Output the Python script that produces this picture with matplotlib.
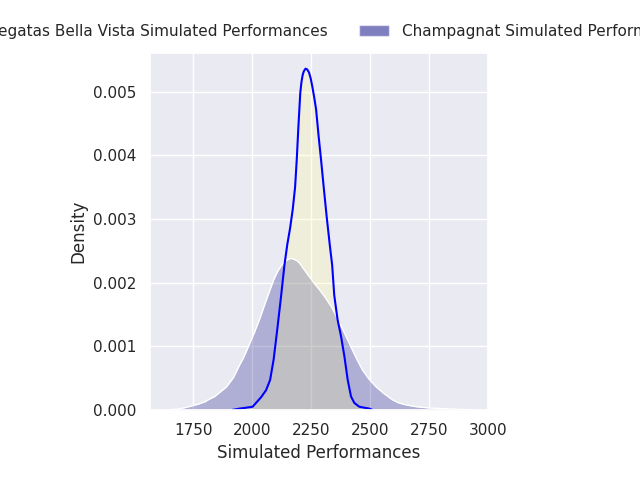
import matplotlib
matplotlib.use("Agg")
import matplotlib.pyplot as plt
import seaborn as sns
from matplotlib.patches import Patch

# density curves
regatas_x = [1915, 1945, 2001, 2037, 2058, 2075, 2090, 2105, 2122, 2136, 2148,
             2160, 2171, 2181, 2188, 2195, 2203, 2208, 2213, 2218, 2225, 2232,
             2240, 2247, 2254, 2262, 2270, 2281, 2291, 2302, 2315, 2329, 2338,
             2347, 2361, 2376, 2390, 2404, 2418, 2432, 2453, 2496, 2508]
regatas_y = [0.0, 0.00002, 0.00005, 0.00020, 0.00031, 0.00047, 0.00079,
             0.00125, 0.00180, 0.00228, 0.00260, 0.00286, 0.00315, 0.00350,
             0.00393, 0.00445, 0.00498, 0.00515, 0.00526, 0.00532, 0.00536,
             0.00535, 0.00530, 0.00521, 0.00508, 0.00491, 0.00472, 0.00429,
             0.00393, 0.00351, 0.00303, 0.00256, 0.00228, 0.00180, 0.00142,
             0.00115, 0.00084, 0.00047, 0.00021, 0.00011, 0.00005, 0.00002, 0.0]

champ_x = [1627, 1680, 1720, 1770, 1800, 1818, 1840, 1860, 1890, 1920, 1945,
           1965, 1987, 2010, 2030, 2050, 2072, 2090, 2106, 2125, 2144, 2160,
           2175, 2190, 2199, 2220, 2242, 2262, 2284, 2310, 2335, 2356, 2377,
           2400, 2424, 2445, 2466, 2495, 2525, 2560, 2593, 2620, 2650, 2695,
           2750, 2805, 2870, 2941]
champ_y = [0.0, 0.00001, 0.00004, 0.00009, 0.00013, 0.00017, 0.00021, 0.00027,
           0.00036, 0.00051, 0.00070, 0.00084, 0.00103, 0.00123, 0.00142,
           0.00163, 0.00186, 0.00204, 0.00217, 0.00228, 0.00235, 0.00238,
           0.00237, 0.00234, 0.00231, 0.00220, 0.00209, 0.00199, 0.00189,
           0.00176, 0.00162, 0.00147, 0.00131, 0.00113, 0.00094, 0.00078,
           0.00063, 0.00048, 0.00036, 0.00025, 0.00016, 0.00011, 0.00008,
           0.00005, 0.00003, 0.00002, 0.00001, 0.0]

labels = ["Regatas Bella Vista Simulated Performances",
          "Champagnat Simulated Performances"]
x_ticks = [1750, 2000, 2250, 2500, 2750, 3000]
y_ticks = [0.000, 0.001, 0.002, 0.003, 0.004, 0.005]

sns.set_theme(style="darkgrid")

fig = plt.figure(figsize=(6.4, 4.8), dpi=100)
ax = fig.add_axes([0.234, 0.146, 0.529, 0.744])

# champagnat underneath
ax.fill_between(champ_x, champ_y, color="navy", alpha=0.25, lw=0)
ax.plot(champ_x, champ_y, color="white", lw=1.0)

# regatas on top
ax.fill_between(regatas_x, regatas_y, color="#ffff8c", alpha=0.22, lw=0)
ax.plot(regatas_x, regatas_y, color="blue", lw=1.5)

ax.set_xlim(1565, 3000)
ax.set_ylim(0, 0.00561)
ax.set_xticks(x_ticks)
ax.set_yticks(y_ticks)
ax.set_yticklabels([f"{v:.3f}" for v in y_ticks])
ax.set_xlabel("Simulated Performances")
ax.set_ylabel("Density")

handles = [Patch(facecolor="#ffff8c", alpha=0.5),
           Patch(facecolor="navy", alpha=0.5)]
ax.legend(handles, labels, loc="lower center", bbox_to_anchor=(0.5, 1.0),
          ncol=2, frameon=False)

fig.savefig("out.png")
